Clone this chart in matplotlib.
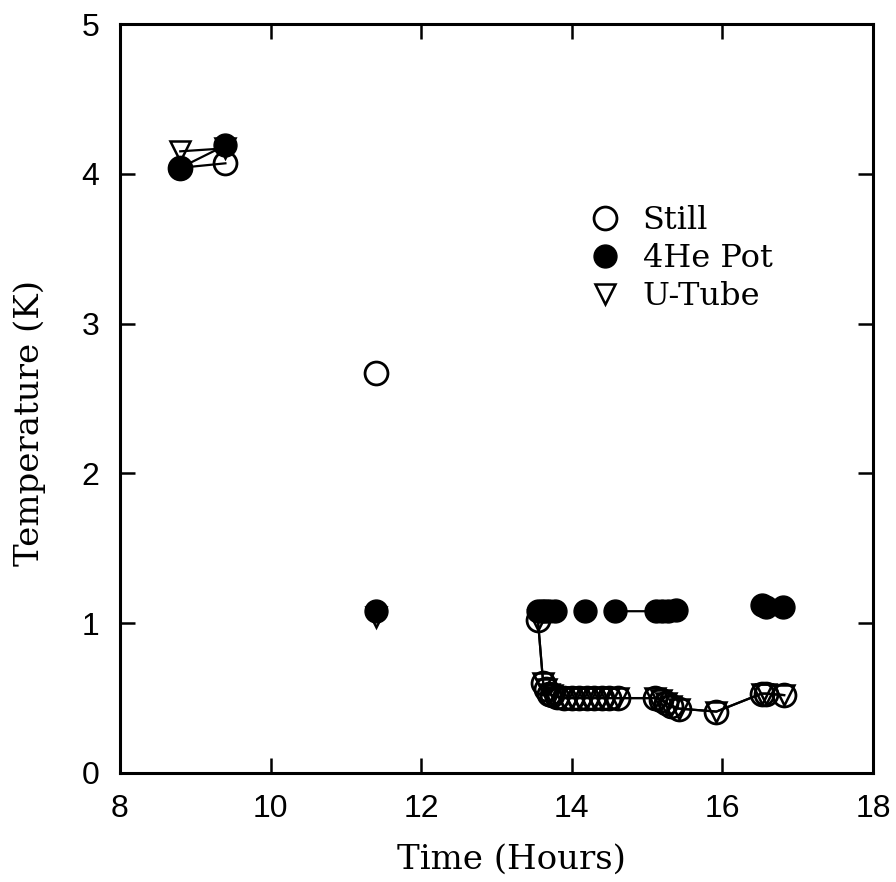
import numpy as np
import matplotlib
matplotlib.use("Agg")
import matplotlib.pyplot as plt
from matplotlib.lines import Line2D

# ---- data ----
still_x = [8.8, 9.4, 11.4, 13.55, 13.62, 13.66, 13.70, 13.74, 13.80, 13.90, 14.00, 14.10,
           14.20, 14.30, 14.40, 14.50, 14.62, 15.10, 15.18, 15.25, 15.32, 15.42, 15.92,
           16.52, 16.58, 16.82]
still_y = [4.04, 4.07, 2.67, 1.02, 0.60, 0.56, 0.53, 0.52, 0.51, 0.50, 0.50, 0.50,
           0.50, 0.50, 0.50, 0.50, 0.50, 0.50, 0.49, 0.47, 0.45, 0.43, 0.41,
           0.53, 0.53, 0.52]
still_seg = [0, 0, 1, 2, 2, 2, 2, 2, 2, 2, 2, 2, 2, 2, 2, 2, 2, 2, 2, 2, 2, 2, 2, 2, 2, 2]

utube_x = [8.8, 9.4, 11.4, 13.55, 13.62, 13.66, 13.70, 13.74, 13.80, 13.90, 14.00, 14.10,
           14.20, 14.30, 14.40, 14.50, 14.62, 15.10, 15.18, 15.25, 15.32, 15.42, 15.92,
           16.52, 16.58, 16.82]
utube_y = [4.15, 4.17, 1.04, 1.02, 0.60, 0.56, 0.53, 0.52, 0.51, 0.50, 0.50, 0.50,
           0.50, 0.50, 0.50, 0.50, 0.50, 0.50, 0.49, 0.47, 0.45, 0.43, 0.41,
           0.53, 0.53, 0.52]
utube_seg = [0, 0, 1, 2, 2, 2, 2, 2, 2, 2, 2, 2, 2, 2, 2, 2, 2, 2, 2, 2, 2, 2, 2, 2, 2, 2]

pot_x = [8.8, 9.4, 11.4, 13.55, 13.60, 13.65, 13.70, 13.78, 14.18, 14.58, 15.12, 15.20,
         15.28, 15.38, 16.52, 16.58, 16.80]
pot_y = [4.04, 4.19, 1.08, 1.08, 1.08, 1.08, 1.08, 1.08, 1.08, 1.08, 1.08, 1.08,
         1.08, 1.09, 1.12, 1.11, 1.11]
pot_seg = [0, 0, 1, 2, 2, 2, 2, 2, 3, 4, 4, 4, 4, 4, 5, 5, 5]

x_ticks = [8, 10, 12, 14, 16, 18]
y_ticks = [0, 1, 2, 3, 4, 5]

serif = "DejaVu Serif"
sans = "Liberation Sans"

fig = plt.figure(figsize=(8.96, 8.82), dpi=100)
ax = fig.add_axes([120 / 896, 1 - 773 / 882, (873 - 120) / 896, (773 - 24) / 882])


def draw(xs, ys, segs, **mk):
    xs = np.array(xs); ys = np.array(ys); segs = np.array(segs)
    for s in np.unique(segs):
        m = segs == s
        if m.sum() > 1:
            ax.plot(xs[m], ys[m], color="black", lw=1.6, zorder=mk.get("zorder", 2) - 0.5)
    ax.plot(xs, ys, ls="none", **mk)


draw(still_x, still_y, still_seg, marker="o", ms=16.5, mfc="none", mec="black", mew=2.0, zorder=3)
draw(utube_x, utube_y, utube_seg, marker="v", ms=14.5, mfc="none", mec="black", mew=1.8, zorder=4)
draw(pot_x, pot_y, pot_seg, marker="o", ms=16.5, mfc="black", mec="black", mew=1.0, zorder=5)

ax.set_xlim(8, 18)
ax.set_ylim(0, 5)
ax.set_xticks(x_ticks)
ax.set_yticks(y_ticks)
ax.set_xticklabels([str(t) for t in x_ticks], fontfamily=sans, fontsize=23)
ax.set_yticklabels([str(t) for t in y_ticks], fontfamily=sans, fontsize=23)
ax.tick_params(direction="in", length=11, width=1.8, top=True, right=True, pad=15)
for sp in ax.spines.values():
    sp.set_linewidth(2.2)

xl = ax.set_xlabel("Time (Hours)", fontfamily=serif, fontsize=24.5)
yl = ax.set_ylabel("Temperature (K)", fontfamily=serif, fontsize=24.5)
xl.set_va("center")
yl.set_va("center")
ax.xaxis.set_label_coords((511 - 120) / 753, (773 - 860) / 749)
ax.yaxis.set_label_coords((30 - 120) / 753, (773 - 423) / 749)

handles = [
    Line2D([], [], ls="none", marker="o", ms=16.5, mfc="none", mec="black", mew=2.0),
    Line2D([], [], ls="none", marker="o", ms=16.5, mfc="black", mec="black"),
    Line2D([], [], ls="none", marker="v", ms=14, mfc="none", mec="black", mew=1.8),
]
leg = ax.legend(handles, ["Still", "4He Pot", "U-Tube"], loc="upper left",
                bbox_to_anchor=((576 - 120) / 753, (773 - 192) / 749), frameon=False,
                prop={"family": serif, "size": 23}, handletextpad=0.69,
                labelspacing=0.22, handlelength=1.0, borderaxespad=0)

fig.savefig("out.png", dpi=100)
